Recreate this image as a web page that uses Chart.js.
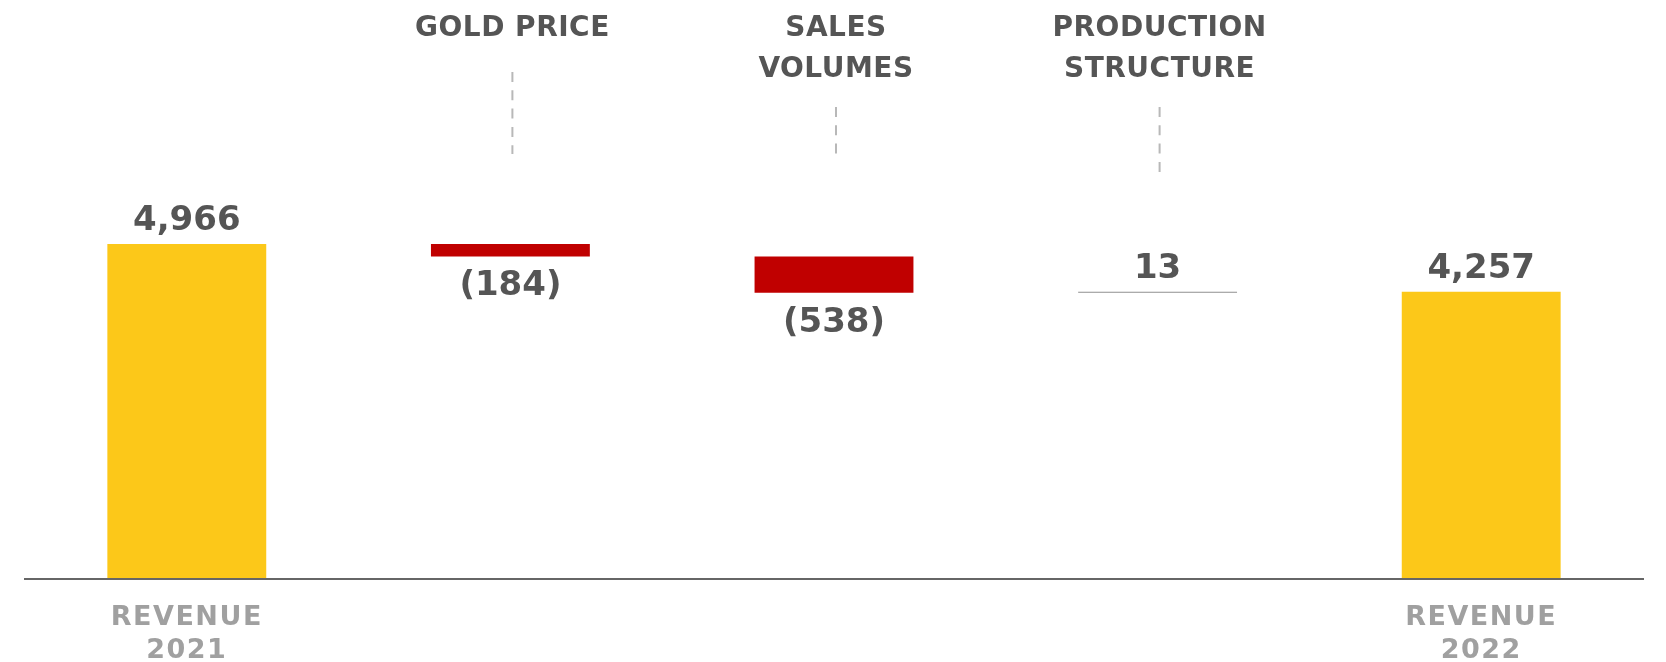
<!DOCTYPE html>
<html>
<head>
<meta charset="utf-8">
<script src="https://cdn.jsdelivr.net/npm/chart.js@4.4.1/dist/chart.umd.min.js"></script>
<style>
  html, body { margin: 0; padding: 0; background: #fff; }
  #wrap { width: 1666px; height: 662px; }
</style>
</head>
<body>
<div id="wrap"><canvas id="revenueChart"></canvas></div>
<script>
// Valores del gráfico (waterfall de ingresos)
const startTotal = 4966;
const changes = [-184, -538, 13];
const endTotal = 4257;

const topLabels = ["", "GOLD PRICE", ["SALES", "VOLUMES"], ["PRODUCTION", "STRUCTURE"], ""];
const bottomLabels = [["REVENUE", "2021"], "", "", "", ["REVENUE", "2022"]];

// Construir barras flotantes a partir de los datos
const bars = [[0, startTotal]];
const kinds = ["total"];
let running = startTotal;
changes.forEach(function (c) {
    bars.push([Math.min(running, running + c), Math.max(running, running + c)]);
    kinds.push(c < 0 ? "down" : "up");
    running += c;
});
bars.push([0, endTotal]);
kinds.push("total");
const labelValues = [startTotal].concat(changes, [endTotal]);

const colors = { total: "#FCC819", down: "#C00000", up: "#8f8f8f" };

function fmt(v) {
    const s = Math.abs(v).toLocaleString("en-US");
    return v < 0 ? "(" + s + ")" : s;
}

const waterfallLabels = {
    id: "waterfallLabels",
    beforeDraw(chart) {
        chart.ctx.letterSpacing = "1.5px";
    },
    afterDatasetsDraw(chart) {
        const ctx = chart.ctx;
        const meta = chart.getDatasetMeta(0);
        const xScale = chart.scales.x;
        ctx.save();

        // valores sobre / bajo cada barra
        ctx.letterSpacing = "0px";
        ctx.font = "bold 34px 'DejaVu Sans'";
        ctx.fillStyle = "#555555";
        ctx.textAlign = "center";
        ctx.textBaseline = "alphabetic";
        meta.data.forEach(function (bar, i) {
            const top = Math.min(bar.y, bar.base);
            const bottom = Math.max(bar.y, bar.base);
            if (labelValues[i] < 0) {
                ctx.fillText(fmt(labelValues[i]), bar.x, bottom + 14 + 25);
            } else {
                ctx.fillText(fmt(labelValues[i]), bar.x, top - 14);
            }
        });

        // títulos superiores y líneas guía
        ctx.font = "bold 28px 'DejaVu Sans'";
        ctx.letterSpacing = "0.5px";
        const leaderStart = [0, 72, 107, 107, 0];
        const leaderEnd = [0, 154, 154, 172, 0];
        topLabels.forEach(function (lab, i) {
            if (!lab) return;
            const x = xScale.getPixelForValue(i);
            const lines = Array.isArray(lab) ? lab : [lab];
            lines.forEach(function (t, j) {
                ctx.fillText(t, x + 2, 36 + j * 41.3);
            });
            ctx.beginPath();
            ctx.setLineDash([10, 8.3]);
            ctx.strokeStyle = "#b8b8b8";
            ctx.lineWidth = 2;
            ctx.moveTo(x + 2, leaderStart[i]);
            ctx.lineTo(x + 2, leaderEnd[i]);
            ctx.stroke();
        });
        ctx.restore();
    }
};

const ctx = document.getElementById("revenueChart").getContext("2d");
const revenueChart = new Chart(ctx, {
    type: "bar",
    data: {
        labels: bottomLabels,
        datasets: [
            {
                data: bars,
                backgroundColor: kinds.map(function (k) { return colors[k]; }),
                borderWidth: 0,
                minBarLength: 1,
                barPercentage: 0.491,
                categoryPercentage: 1
            }
        ]
    },
    options: {
        responsive: true,
        maintainAspectRatio: false,
        animation: false,
        layout: { padding: { left: 25, right: 23, top: 0, bottom: 0 } },
        plugins: {
            legend: { display: false },
            tooltip: { enabled: false }
        },
        scales: {
            x: {
                grid: { display: false, drawTicks: false },
                border: { display: true, color: "#666666", width: 2, z: 1 },
                ticks: {
                    color: "#a0a0a0",
                    padding: 23,
                    maxRotation: 0,
                    autoSkip: false,
                    font: { family: "'DejaVu Sans'", size: 27, weight: "bold", lineHeight: 1.2 }
                },
                afterFit: function (scale) { scale.height = 83; }
            },
            y: {
                display: false,
                min: 0,
                max: 8583
            }
        }
    },
    plugins: [waterfallLabels]
});
</script>
</body>
</html>
